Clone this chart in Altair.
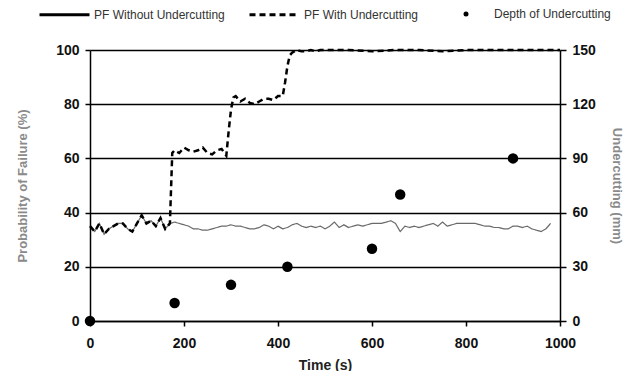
import altair as alt
import pandas as pd

# ---- data ----
t_without = [0, 10, 20, 30, 40, 50, 60, 70, 80, 90, 100, 110, 120, 130, 140, 150, 160, 170,
             180, 190, 200, 210, 220, 230, 240, 250, 260, 270, 280, 290, 300, 310, 320, 330,
             340, 350, 360, 370, 380, 390, 400, 410, 420, 430, 440, 450, 460, 470, 480, 490,
             500, 510, 520, 530, 540, 550, 560, 570, 580, 590, 600, 610, 620, 630, 640, 650,
             660, 670, 680, 690, 700, 710, 720, 730, 740, 750, 760, 770, 780, 790, 800, 810,
             820, 830, 840, 850, 860, 870, 880, 890, 900, 910, 920, 930, 940, 950, 960, 970, 980]
pf_without = [35, 33, 36, 32, 34, 35, 36, 36, 34, 33, 36, 39, 36, 37, 35, 38, 34, 36,
              36.5, 36, 35.5, 35, 34, 34, 33.5, 33.5, 34, 34.5, 35, 35, 35.5, 35, 35, 34.5,
              34, 34, 34.5, 35.5, 35, 34, 35, 34, 34.5, 35.5, 36, 35, 34.5, 35, 34.5, 35,
              34, 35, 36.5, 34.5, 35.5, 34.5, 35, 35.5, 35, 35.5, 36, 36, 36, 36.5, 37, 36,
              33, 35, 34.5, 35, 34.5, 35, 35.5, 36, 35, 36.5, 35, 35.5, 36, 36, 36, 36,
              36, 35.5, 35, 35, 34.5, 34.5, 34, 34, 35, 35, 34.5, 35, 34, 33.5, 33, 34, 36]

t_with = [0, 10, 20, 30, 40, 50, 60, 70, 80, 90, 100, 110, 120, 130, 140, 150, 160, 170,
          175, 180, 190, 200, 210, 220, 230, 240, 250, 260, 270, 280, 290,
          295, 300, 305, 310, 320, 330, 340, 350, 360, 370, 380, 390, 400, 410,
          415, 420, 425, 430, 440, 450, 460, 470, 480, 490, 500, 550, 600, 650,
          700, 750, 800, 850, 900, 950, 1000]
pf_with = [35, 33, 36, 32, 34, 35, 36, 36, 34, 33, 36, 39, 36, 37, 35, 38, 34, 36,
           62, 63, 62, 64, 63, 62.5, 63, 64, 62, 61.5, 63, 63.5, 61,
           70, 78, 82.5, 83, 81, 82, 80.5, 80, 81, 82, 82, 81.5, 83, 83,
           88, 94, 98, 99, 100, 99.5, 99.5, 100, 99.5, 100, 100, 100, 99.5, 100,
           100, 99.5, 100, 100, 100, 100, 100]

depth_time = [0, 180, 300, 420, 600, 660, 900]
depth_mm = [0, 10, 20, 30, 40, 70, 90]

S1 = "PF Without Undercutting"
S2 = "PF With Undercutting"
S3 = "Depth of Undercutting"

lines = pd.concat([
    pd.DataFrame({"time": t_without, "pf": pf_without, "series": S1}),
    pd.DataFrame({"time": t_with, "pf": pf_with, "series": S2}),
])
pts = pd.DataFrame({"time": depth_time, "depth": depth_mm, "series": S3})

FONT = "Liberation Sans"

x_enc = alt.X("time:Q", scale=alt.Scale(domain=[0, 1000], nice=False),
              axis=alt.Axis(values=[0, 200, 400, 600, 800, 1000], title="Time (s)",
                            format="d", labelFlush=False,
                            grid=False, tickSize=5, labelPadding=10, titlePadding=8,
                            titleFontWeight="bold", titleFontSize=14, titleColor="#222"))

line_layer = alt.Chart(lines).mark_line(strokeCap="butt").encode(
    x=x_enc,
    y=alt.Y("pf:Q", scale=alt.Scale(domain=[0, 100], nice=False),
            axis=alt.Axis(values=[0, 20, 40, 60, 80, 100], title="Probability of Failure (%)",
                          grid=True, gridColor="black", gridWidth=1.5, tickSize=5,
                          labelPadding=6, titlePadding=26, titleColor="#8a8a8a",
                          titleFontSize=13, titleFontWeight="bold")),
    color=alt.Color("series:N", scale=alt.Scale(domain=[S1, S2], range=["#6a6a6a", "black"]),
                    legend=None),
    strokeWidth=alt.StrokeWidth("series:N", scale=alt.Scale(domain=[S1, S2], range=[1.2, 2.5]),
                                legend=None),
    strokeDash=alt.StrokeDash("series:N", scale=alt.Scale(domain=[S1, S2], range=[[1, 0], [6, 4]]),
                              legend=alt.Legend(orient="none", legendX=-52, legendY=-62,
                                                direction="horizontal", title=None,
                                                symbolSize=2500, symbolStrokeColor="black",
                                                symbolStrokeWidth=3, columnPadding=18,
                                                labelFontSize=12, labelOffset=3,
                                                labelColor="#333")),
    order=alt.Order("time:Q"),
)

pt_layer = alt.Chart(pts).mark_point(filled=True, size=110, color="black", opacity=1).encode(
    x=x_enc,
    y=alt.Y("depth:Q", scale=alt.Scale(domain=[0, 150], nice=False),
            axis=alt.Axis(values=[0, 30, 60, 90, 120, 150], orient="right",
                          title="Undercutting (mm)", grid=False, tickSize=6,
                          labelPadding=6, titlePadding=14, titleColor="#8a8a8a",
                          titleFontSize=13, titleFontWeight="bold")),
    shape=alt.Shape("series:N", scale=alt.Scale(domain=[S3], range=["circle"]),
                    legend=alt.Legend(orient="none", legendX=370, legendY=-42, title=None,
                                      symbolSize=25, symbolFillColor="black",
                                      symbolStrokeColor="black", labelFontSize=12,
                                      labelOffset=22, labelColor="#333")),
)

chart = alt.layer(line_layer, pt_layer).resolve_scale(
    y="independent", strokeDash="independent", shape="independent"
).properties(
    width=470, height=271,
    autosize=alt.AutoSizeParams(type="none"),
    padding={"left": 82, "top": 42, "right": 68, "bottom": 50},
).configure_view(stroke=None).configure_axis(
    domainColor="black", domainWidth=1.5, tickColor="black", tickWidth=1.5,
    labelFont=FONT, labelFontSize=14, labelFontWeight="bold", labelColor="#111",
    titleFont=FONT,
).configure_legend(labelFont=FONT)

chart.save("out.html", embed_options={"renderer": "svg", "actions": False})
